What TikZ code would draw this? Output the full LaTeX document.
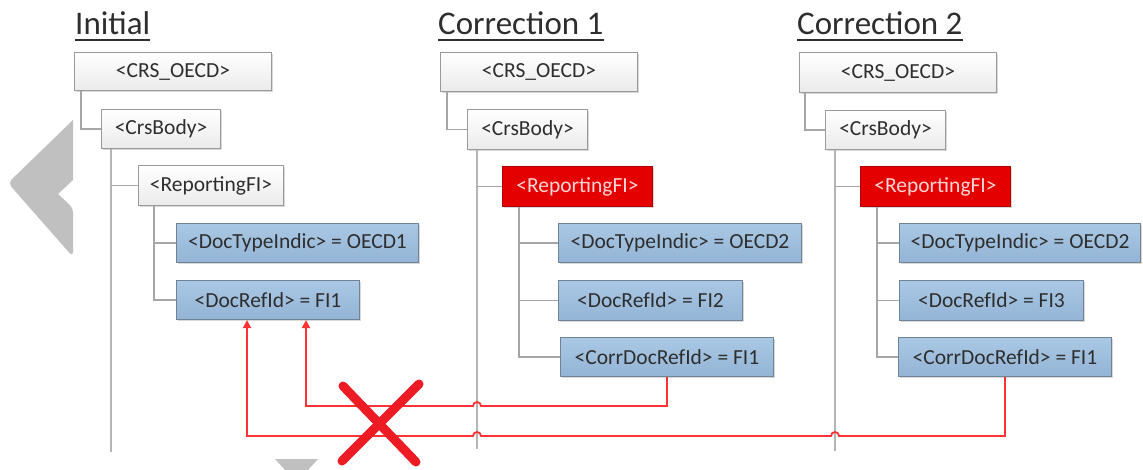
\documentclass[tikz,border=0pt]{standalone}
\usepackage{fontspec}
\setmainfont{Carlito}
\usetikzlibrary{arrows.meta,calc,shadows,shapes.geometric}
\definecolor{boxtext}{HTML}{2E2E2E}
\definecolor{boxline}{HTML}{9A9A9A}
\definecolor{bluetop}{HTML}{A9C8E4}
\definecolor{bluebot}{HTML}{94B4D6}
\definecolor{blueline}{HTML}{6F8296}
\definecolor{redfill}{HTML}{E50000}
\definecolor{redtext}{HTML}{FFD6D6}
\definecolor{treegray}{HTML}{A6A6A6}
\definecolor{longgray}{HTML}{B4B4B4}
\definecolor{refred}{HTML}{FF3333}
\definecolor{xred}{HTML}{ED1C24}
\definecolor{decogray}{HTML}{C0C0C0}
\tikzset{
  basebox/.style={anchor=north west, inner sep=0pt, font=\fontsize{21.5}{24}\selectfont,
    drop shadow={shadow xshift=1.5pt,shadow yshift=-1.5pt,opacity=0.3}},
  whitebox/.style={basebox, draw=boxline, line width=1pt, top color=white, bottom color=black!8, text=boxtext},
  bluebox/.style={basebox, draw=blueline, line width=1pt, top color=bluetop, bottom color=bluebot, text=boxtext},
  redbox/.style={basebox, draw=red!70!black, line width=1pt, fill=redfill, text=redtext},
  title/.style={anchor=base west, inner sep=0pt, font=\fontsize{33}{36}\selectfont, text=boxtext},
  tree/.style={draw=treegray, line width=1.6pt},
  longline/.style={draw=longgray, line width=2.6pt},
  refline/.style={draw=refred, line width=1.8pt},
  reftip/.style={refline, -{Triangle[length=8pt,width=8pt]}},
  xmark/.style={draw=xred, line width=9pt, line cap=round}
}
\begin{document}
\begin{tikzpicture}[x=1pt,y=-1pt]
\useasboundingbox[fill=white] (0,0) rectangle (1143,470);

% decorative gray shapes
\fill[decogray, rounded corners=5pt] (73,120) -- (8,183) -- (73,257) -- (73,208) [sharp corners]-- (58,194) -- (73,180) -- cycle;
\fill[decogray] (275,459) -- (318,459) -- (307,471) -- (286,471) -- cycle;

% titles
\node[title] (tt1) at (75,35) {Initial};
\node[title] (tt2) at (438,35) {Correction 1};
\node[title] (tt3) at (797,35) {Correction 2};
\foreach \t in {tt1,tt2,tt3}{
  \draw[draw=boxtext, line width=1.8pt] ([yshift=-5pt]\t.base west) -- ([yshift=-5pt]\t.base east);
}

% ---------- Initial ----------
\node[whitebox, minimum width=197pt, minimum height=38pt] (crs1) at (74,52) {<CRS\_OECD>};
\node[whitebox, minimum width=119pt, minimum height=39pt] (body1) at (101,109) {<CrsBody>};
\node[whitebox, minimum width=145pt, minimum height=40pt] (rep1) at (138,165) {<ReportingFI>};
\node[bluebox, minimum width=242pt, minimum height=39pt] (dt1) at (176,223) {<DocTypeIndic> = OECD1};
\node[bluebox, minimum width=183pt, minimum height=39pt] (ref1) at (176,280) {<DocRefId> = FI1};

% ---------- Correction 1 ----------
\node[whitebox, minimum width=197pt, minimum height=39pt] (crs2) at (440,52) {<CRS\_OECD>};
\node[whitebox, minimum width=120pt, minimum height=40pt] (body2) at (467,109) {<CrsBody>};
\node[redbox, minimum width=150pt, minimum height=40pt] (rep2) at (502,166) {<ReportingFI>};
\node[bluebox, minimum width=243pt, minimum height=39pt] (dt2) at (558,223) {<DocTypeIndic> = OECD2};
\node[bluebox, minimum width=184pt, minimum height=40pt] (ref2) at (558,280) {<DocRefId> = FI2};
\node[bluebox, minimum width=213pt, minimum height=39pt] (corr2) at (560,337) {<CorrDocRefId> = FI1};

% ---------- Correction 2 ----------
\node[whitebox, minimum width=197pt, minimum height=40pt] (crs3) at (799,52) {<CRS\_OECD>};
\node[whitebox, minimum width=120pt, minimum height=39pt] (body3) at (825,110) {<CrsBody>};
\node[redbox, minimum width=150pt, minimum height=40pt] (rep3) at (860,166) {<ReportingFI>};
\node[bluebox, minimum width=241pt, minimum height=39pt] (dt3) at (899,223) {<DocTypeIndic> = OECD2};
\node[bluebox, minimum width=184pt, minimum height=40pt] (ref3) at (899,280) {<DocRefId> = FI3};
\node[bluebox, minimum width=213pt, minimum height=39pt] (corr3) at (898,337) {<CorrDocRefId> = FI1};

% ---------- tree connectors ----------
\coordinate (end1) at (111,452);
\coordinate (end2) at (477,449);
\coordinate (end3) at (835,451);

% Initial
\draw[tree] ($(crs1.south west)+(7,0)$) |- (body1.west);
\draw[longline] ($(body1.south west)+(10,0)$) -- (end1);
\draw[tree] (rep1.west -| end1) -- (rep1.west);
\coordinate (r1) at ($(rep1.south west)+(16,0)$);
\draw[tree] (r1) |- (ref1.west);
\draw[tree] (r1 |- dt1.west) -- (dt1.west);

% Correction 1
\draw[tree] ($(crs2.south west)+(7,0)$) |- (body2.west);
\draw[longline] ($(body2.south west)+(10,0)$) -- (end2);
\draw[tree] (rep2.west -| end2) -- (rep2.west);
\coordinate (r2) at ($(rep2.south west)+(17,0)$);
\draw[tree] (r2) |- (corr2.west);
\draw[tree] (r2 |- dt2.west) -- (dt2.west);
\draw[tree] (r2 |- ref2.west) -- (ref2.west);

% Correction 2
\draw[tree] ($(crs3.south west)+(6,0)$) |- (body3.west);
\draw[longline] ($(body3.south west)+(10,0)$) -- (end3);
\draw[tree] (rep3.west -| end3) -- (rep3.west);
\coordinate (r3) at ($(rep3.south west)+(17,0)$);
\draw[tree] (r3) |- (corr3.west);
\draw[tree] (r3 |- dt3.west) -- (dt3.west);
\draw[tree] (r3 |- ref3.west) -- (ref3.west);

% ---------- reference lines ----------
\coordinate (yA) at (0,406);
\coordinate (yB) at (0,436);
\coordinate (t1) at ($(ref1.south west)+(130,0)$);
\coordinate (t2) at ($(ref1.south west)+(71,0)$);

\draw[reftip] (corr2.south) |- ([xshift=4pt]end2 |- yA)
  arc[start angle=0, end angle=180, radius=4pt] -- (t1 |- yA) -- (t1);
\draw[reftip] (corr3.south) |- ([xshift=4pt]end3 |- yB)
  arc[start angle=0, end angle=180, radius=4pt] -- ([xshift=4pt]end2 |- yB)
  arc[start angle=0, end angle=180, radius=4pt] -- (t2 |- yB) -- (t2);

% ---------- cross ----------
\draw[xmark] (343,386) -- (416,462);
\draw[xmark] (419,384) -- (342,461);

\end{tikzpicture}
\end{document}
